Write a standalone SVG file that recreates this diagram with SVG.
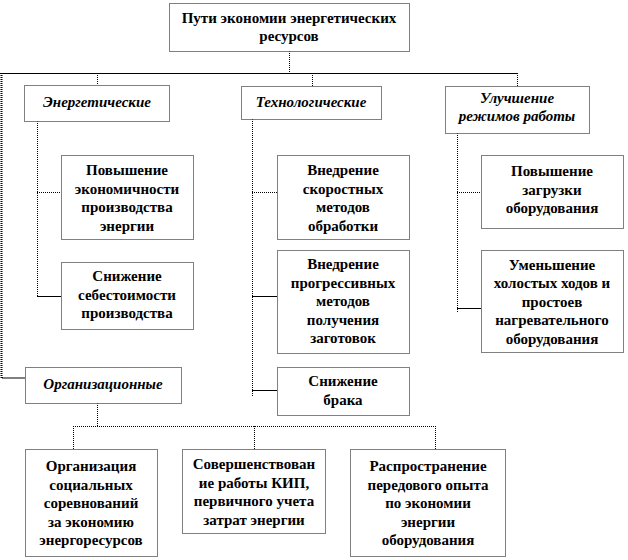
<svg xmlns="http://www.w3.org/2000/svg" width="628" height="560" viewBox="0 0 628 560">
<style>
.box{fill:#fff;stroke:#000;stroke-width:1;stroke-dasharray:1 1}
.t{font-family:'Liberation Serif','DejaVu Serif',serif;font-weight:bold;font-size:15px;text-anchor:middle;fill:#000}
.i{font-style:italic}
.dot{fill:none;stroke:#000;stroke-width:1;stroke-dasharray:1 1}
.thick{fill:none;stroke:#000;stroke-width:2;stroke-dasharray:1 1}
.sol{fill:none;stroke:#000;stroke-width:1}
</style>
<rect width="628" height="560" fill="#fff"/>
<g id="connectors">
<path class="dot" d="M289.5 51V73"/>
<path class="sol" d="M0 73.5H517.5"/>
<path class="dot" d="M97.5 73V85M312.5 73V86M517.5 73V86"/>
<path class="thick" d="M1.5 73V378H25"/>
<path class="dot" d="M37.5 121V296M37 192.5H61"/>
<path class="sol" d="M37 296.5H61"/>
<path class="dot" d="M252.5 119V397M252 192.5H277"/>
<path class="sol" d="M252 296.5H277M252 390.5H277"/>
<path class="dot" d="M457.5 133V312M457 192.5H481"/>
<path class="sol" d="M457 308.5H481"/>
<path class="dot" d="M97.5 403V426M73 426.5H435M73.5 426V449M254.5 426V449M435.5 426V449"/>
</g>
<g id="root">
<rect class="box" x="169.5" y="3.5" width="240" height="48"/>
<text class="t" x="289" y="23">Пути экономии энергетических</text>
<text class="t" x="289" y="41">ресурсов</text>
</g>
<g id="energy">
<rect class="box" x="24.5" y="85.5" width="145" height="36"/>
<text class="t i" x="97" y="107">Энергетические</text>
</g>
<g id="tech">
<rect class="box" x="241.5" y="86.5" width="140" height="33"/>
<text class="t i" x="311" y="107">Технологические</text>
</g>
<g id="improve">
<rect class="box" x="445.5" y="86.5" width="144" height="47"/>
<text class="t i" x="517" y="103">Улучшение</text>
<text class="t i" x="517" y="121">режимов работы</text>
</g>
<g id="e1">
<rect class="box" x="61.5" y="155.5" width="132" height="84"/>
<text class="t" x="127" y="175">Повышение</text>
<text class="t" x="127" y="193.5">экономичности</text>
<text class="t" x="127" y="212">производства</text>
<text class="t" x="127" y="230.5">энергии</text>
</g>
<g id="e2">
<rect class="box" x="61.5" y="262.5" width="132" height="67"/>
<text class="t" x="127" y="281">Снижение</text>
<text class="t" x="127" y="299.5">себестоимости</text>
<text class="t" x="127" y="318">производства</text>
</g>
<g id="t1">
<rect class="box" x="277.5" y="155.5" width="132" height="84"/>
<text class="t" x="343" y="175">Внедрение</text>
<text class="t" x="343" y="193.5">скоростных</text>
<text class="t" x="343" y="212">методов</text>
<text class="t" x="343" y="230.5">обработки</text>
</g>
<g id="t2">
<rect class="box" x="277.5" y="250.5" width="132" height="103"/>
<text class="t" x="343" y="269">Внедрение</text>
<text class="t" x="343" y="287.5">прогрессивных</text>
<text class="t" x="343" y="306">методов</text>
<text class="t" x="343" y="324.5">получения</text>
<text class="t" x="343" y="343">заготовок</text>
</g>
<g id="t3">
<rect class="box" x="277.5" y="367.5" width="132" height="48"/>
<text class="t" x="343" y="386">Снижение</text>
<text class="t" x="343" y="404.5">брака</text>
</g>
<g id="i1">
<rect class="box" x="481.5" y="155.5" width="142" height="73"/>
<text class="t" x="552" y="176">Повышение</text>
<text class="t" x="552" y="194.5">загрузки</text>
<text class="t" x="552" y="213">оборудования</text>
</g>
<g id="i2">
<rect class="box" x="481.5" y="250.5" width="142" height="102"/>
<text class="t" x="552" y="269.5">Уменьшение</text>
<text class="t" x="552" y="288">холостых ходов и</text>
<text class="t" x="552" y="306.5">простоев</text>
<text class="t" x="552" y="325">нагревательного</text>
<text class="t" x="552" y="343.5">оборудования</text>
</g>
<g id="org">
<rect class="box" x="25.5" y="367.5" width="156" height="36"/>
<text class="t i" x="103" y="389">Организационные</text>
</g>
<g id="b1">
<rect class="box" x="25.5" y="449.5" width="132" height="107"/>
<text class="t" x="91" y="471">Организация</text>
<text class="t" x="91" y="489.5">социальных</text>
<text class="t" x="91" y="508">соревнований</text>
<text class="t" x="91" y="526.5">за экономию</text>
<text class="t" x="91" y="545">энергоресурсов</text>
</g>
<g id="b2">
<rect class="box" x="182.5" y="449.5" width="143" height="84"/>
<text class="t" x="254" y="469">Совершенствован</text>
<text class="t" x="254" y="487.5">ие работы КИП,</text>
<text class="t" x="254" y="506">первичного учета</text>
<text class="t" x="254" y="524.5">затрат энергии</text>
</g>
<g id="b3">
<rect class="box" x="350.5" y="449.5" width="155" height="107"/>
<text class="t" x="428" y="471">Распространение</text>
<text class="t" x="428" y="489.5">передового опыта</text>
<text class="t" x="428" y="508">по экономии</text>
<text class="t" x="428" y="526.5">энергии</text>
<text class="t" x="428" y="545">оборудования</text>
</g>
</svg>
